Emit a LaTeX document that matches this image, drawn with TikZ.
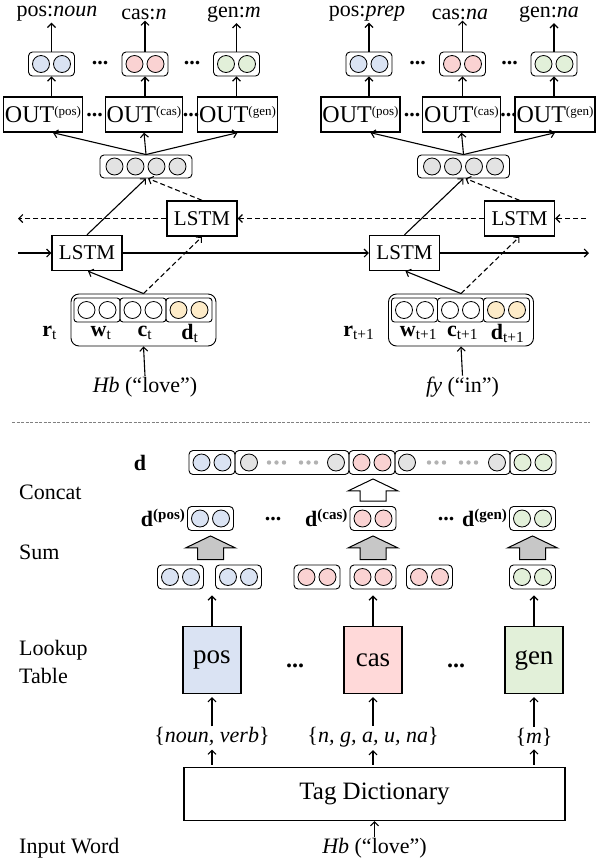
\documentclass[tikz,border=0pt]{standalone}
\usepackage{fontspec}
\setmainfont{Liberation Serif}
\usetikzlibrary{arrows.meta,calc}

\definecolor{tagblue}{HTML}{DAE3F3}
\definecolor{tagred}{HTML}{FAD2D2}
\definecolor{taggreen}{HTML}{E2F0D9}
\definecolor{tagyellow}{HTML}{FDEBC8}
\definecolor{taggray}{HTML}{E3E3E3}
\definecolor{boxred}{HTML}{FFD9D9}

\tikzset{
  txt/.style={font=\fontsize{22}{28}\selectfont, inner sep=1pt},
  vbox/.style={draw, rounded corners=4pt, line width=0.9pt, inner sep=0pt, minimum height=24pt},
  cell/.style={circle, draw, line width=0.8pt, minimum size=17pt, inner sep=0pt},
  lstm/.style={draw, line width=1.4pt, minimum width=70pt, minimum height=35pt, inner sep=0pt,
    font=\fontsize{21}{21}\selectfont},
  outbox/.style={draw, line width=1.4pt, minimum height=35pt, inner sep=1.5pt,
    font=\fontsize{24}{24}\selectfont},
  lookup/.style={draw, line width=1.3pt, minimum width=58pt, minimum height=67pt, inner sep=0pt,
    font=\fontsize{27}{27}\selectfont},
  arr/.style={-{Straight Barb[length=4pt,width=8pt]}, line width=1.1pt},
  dsh/.style={dash pattern=on 5pt off 3pt},
  ell/.style={font=\fontsize{22}{22}\selectfont\bfseries, inner sep=0pt},
  fatarr/.style={draw, line width=1pt, line join=miter},
  gdot/.style={circle, fill=black!30, minimum size=4.4pt, inner sep=0pt},
}

% superscripts of the output layers and of the tag vectors
\newcommand\outsup[1]{\raisebox{7pt}{\fontsize{13}{13}\selectfont(#1)}}
\newcommand\dsup[1]{\textbf{d}\raisebox{7pt}{\fontsize{15}{15}\selectfont\bfseries(#1)}}

% a rounded box holding two coloured cells
\newcommand\cellpair[4]{%
  \node[vbox, minimum width=46pt] (#1) at (#2,#3) {};
  \node[cell, fill=#4] (#1a) at ([xshift=-10.5pt]#1.center) {};
  \node[cell, fill=#4] (#1b) at ([xshift=10.5pt]#1.center) {};}

% block arrow: stem starts at #1, tip at #2
\newcommand\fatarrow[3]{%
  \draw[fatarr, fill=#3] let \p1=#1, \p2=#2 in
    (\x1-13pt,\y1) -- (\x1+13pt,\y1) -- (\x1+13pt,\y2-12pt) -- (\x1+25pt,\y2-12pt)
    -- (\x1,\y2) -- (\x1-25pt,\y2-12pt) -- (\x1-13pt,\y2-12pt) -- cycle;}

% one time step of the tagger
% #1 suffix, #2-#4 tag values, #5 subscript, #6 word, #7-#9 label positions
\newcommand\tagcol[9]{%
  \node[txt] (pl#1) at (#7,14) {pos:\textit{#2}};
  \node[txt] (cl#1) at (#8,14) {cas:\textit{#3}};
  \node[txt] (gl#1) at (#9,14) {gen:\textit{#4}};
  \cellpair{po#1}{51.5}{64}{tagblue}
  \cellpair{co#1}{145}{64}{tagred}
  \cellpair{go#1}{236.5}{64}{taggreen}
  \node[ell] (ea#1) at (100,63) {...};
  \node[ell] (eb#1) at (192,63) {...};
  \node[outbox] (op#1) at (43,114.5) {OUT\outsup{pos}};
  \node[outbox] (oc#1) at (144,114.5) {OUT\outsup{cas}};
  \node[outbox] (og#1) at (237.5,114.5) {OUT\outsup{gen}};
  \node[ell] (ec#1) at (94.5,115) {...};
  \node[ell] (ed#1) at (191,115) {...};
  \draw[arr] (po#1.south |- op#1.north) -- (po#1.south);
  \draw[arr] (co#1.south |- oc#1.north) -- (co#1.south);
  \draw[arr] (go#1.south |- og#1.north) -- (go#1.south);
  \draw[arr] (po#1.north) -- (po#1.north |- pl#1.south);
  \draw[arr] (co#1.north) -- (co#1.north |- cl#1.south);
  \draw[arr] (go#1.north) -- (go#1.north |- gl#1.south);
  % hidden state
  \node[vbox, minimum width=92pt, minimum height=23pt] (h#1) at (146,166.5) {};
  \foreach \k/\n in {-31.5/a,-10.5/b,10.5/c,31.5/d}
    \node[cell, fill=taggray] (h#1\n) at ([xshift=\k pt]h#1.center) {};
  \draw[arr] (h#1.north) -- ([xshift=10pt]op#1.south);
  \draw[arr] (h#1.north) -- (oc#1.south);
  \draw[arr] (h#1.north) -- (og#1.south);
  % recurrent cells
  \node[lstm] (b#1) at (202,218.5) {LSTM};
  \node[lstm] (f#1) at (87,253) {LSTM};
  \draw[arr] (f#1.north) -- (h#1.south);
  \draw[arr, dsh] (b#1.north) -- ([xshift=2pt]h#1.south);
  % input representation
  \node[draw, rounded corners=8pt, line width=0.9pt, minimum width=145pt, minimum height=52pt]
    (r#1) at (143.5,320) {};
  \node[vbox, rounded corners=3pt, minimum width=46pt] (w#1) at (97,310) {};
  \node[vbox, rounded corners=3pt, minimum width=46pt] (c#1) at (143,310) {};
  \node[vbox, rounded corners=3pt, minimum width=46pt] (d#1) at (189,310) {};
  \foreach \bx/\cl in {w/white,c/white,d/tagyellow} {
    \node[cell, fill=\cl] (\bx#1a) at ([xshift=-10.5pt]\bx#1.center) {};
    \node[cell, fill=\cl] (\bx#1b) at ([xshift=10.5pt]\bx#1.center) {};
  }
  \node[txt] (wl#1) at (101,333) {\textbf{w}\textsubscript{#5}};
  \node[txt] (cl#1x) at (145,333) {\textbf{c}\textsubscript{#5}};
  \node[txt] (dl#1) at (190,333) {\textbf{d}\textsubscript{#5}};
  \node[txt, anchor=east] (rl#1) at (58,333) {\textbf{r}\textsubscript{#5}};
  \draw[arr] (r#1.north) -- ([xshift=1pt]f#1.south);
  \draw[arr, dsh] (r#1.north) -- (b#1.south);
  \node[txt] (wd#1) at (145,387) {#6};
  \draw[arr] (wd#1.north) -- (r#1.south);
}

\begin{document}
\begin{tikzpicture}[x=1pt, y=-1pt]
\useasboundingbox (0,0) rectangle (597,863);

% ---------- sequence tagger ----------
\tagcol{1}{noun}{n}{m}{t}{\textit{Hb} (``love'')}{57}{144}{234}
\begin{scope}[xshift=317.5pt]
  \tagcol{2}{prep}{na}{na}{t+1}{\textit{fy} (``in'')}{49.5}{142.5}{231.5}
\end{scope}

\coordinate (fin) at (18,253);
\coordinate (fout) at (589,253);
\coordinate (bin) at (586,218.5);
\coordinate (bout) at (18,218.5);
\draw[arr] (fin) -- (f1);
\draw[arr] (f1) -- (f2);
\draw[arr] (f2) -- (fout);
\draw[arr, dsh] (bin) -- (b2);
\draw[arr, dsh] (b2) -- (b1);
\draw[arr, dsh] (b1) -- (bout);

% ---------- separator ----------
\draw[black!50, line width=0.7pt, dash pattern=on 3pt off 1.5pt] (12,422) -- (590,422);

% ---------- tag embedding ----------
\node[txt, anchor=west] (lcat) at (18,492) {Concat};
\node[txt, anchor=west] (lsum) at (18,552) {Sum};
\node[txt, anchor=west, align=left] (llook) at (18,662) {Lookup\\Table};
\node[txt, anchor=west] (linp) at (18,848) {Input Word};

% concatenated vector
\node[txt] (dlab) at (140,463) {\textbf{d}};
\cellpair{cpos}{212}{462.5}{tagblue}
\node[vbox, minimum width=114pt] (cg1) at (292,462.5) {};
\cellpair{ccas}{372}{462.5}{tagred}
\node[vbox, minimum width=115pt] (cg2) at (452.5,462.5) {};
\cellpair{cgen}{533}{462.5}{taggreen}
\node[cell, fill=taggray] (cg1a) at (249,462.5) {};
\node[cell, fill=taggray] (cg1b) at (336,462.5) {};
\node[cell, fill=taggray] (cg2a) at (407,462.5) {};
\node[cell, fill=taggray] (cg2b) at (497,462.5) {};
\foreach \x in {269,276.5,284,301,308.5,316,429,436.5,444,461,468.5,476}
  \node[gdot] at (\x,462.5) {};

% summed vectors
\cellpair{dpos}{210.5}{518.5}{tagblue}
\cellpair{dcas}{373}{518.5}{tagred}
\cellpair{dgen}{532.5}{518.5}{taggreen}
\node[txt, anchor=east] (dposl) at ([xshift=-1pt,yshift=1pt]dpos.west) {\dsup{pos}};
\node[txt, anchor=east] (dcasl) at ([xshift=-1pt,yshift=1pt]dcas.west) {\dsup{cas}};
\node[txt, anchor=east] (dgenl) at ([xshift=-1pt,yshift=1pt]dgen.west) {\dsup{gen}};
\node[ell] (ee1) at (273,519) {...};
\node[ell] (ee2) at (446,519) {...};

% looked-up vectors
\cellpair{bp1}{180.5}{577}{tagblue}
\cellpair{bp2}{238.5}{577}{tagblue}
\cellpair{bc1}{317}{577}{tagred}
\cellpair{bc2}{373}{577}{tagred}
\cellpair{bc3}{429.5}{577}{tagred}
\cellpair{bg1}{532.5}{577}{taggreen}

% block arrows
\fatarrow{([yshift=5pt]dcas.north)}{([yshift=-4pt]ccas.south)}{white}
\fatarrow{([yshift=5pt]dpos.south |- bp1.north)}{([yshift=-5pt]dpos.south)}{black!22}
\fatarrow{([yshift=5pt]dcas.south |- bc2.north)}{([yshift=-5pt]dcas.south)}{black!22}
\fatarrow{([yshift=5pt]dgen.south |- bg1.north)}{([yshift=-5pt]dgen.south)}{black!22}

% lookup tables
\node[lookup, fill=tagblue] (lpos) at (212,660) {pos};
\node[lookup, fill=boxred] (lcas) at (373,660) {cas};
\node[lookup, fill=taggreen] (lgen) at (534,660) {gen};
\node[ell, font=\fontsize{24}{24}\selectfont\bfseries] (ef1) at (295,666) {...};
\node[ell, font=\fontsize{24}{24}\selectfont\bfseries] (ef2) at (456,666) {...};
\draw[arr, shorten >=6pt] (lpos.north) -- (lpos.north |- bp1.south);
\draw[arr, shorten >=6pt] (lcas.north) -- (lcas.north |- bc2.south);
\draw[arr, shorten >=6pt] (lgen.north) -- (lgen.north |- bg1.south);

% candidate tags
\node[txt] (spos) at (212,737) {\{\textit{noun, verb}\}};
\node[txt] (scas) at (373,737) {\{\textit{n, g, a, u, na}\}};
\node[txt] (sgen) at (534,737) {\{\textit{m}\}};
\draw[arr, shorten >=3pt] (spos.north) -- (lpos.south);
\draw[arr, shorten >=3pt] (scas.north) -- (lcas.south);
\draw[arr, shorten >=3pt] (sgen.north) -- (lgen.south);

% dictionary
\node[draw, line width=1.3pt, minimum width=381pt, minimum height=53pt,
  font=\fontsize{25}{25}\selectfont] (tag) at (374.5,794) {Tag Dictionary};
\draw[arr, shorten <=2pt, shorten >=2pt] (tag.north -| spos) -- (spos.south);
\draw[arr, shorten <=2pt, shorten >=2pt] (tag.north -| scas) -- (scas.south);
\draw[arr, shorten <=2pt, shorten >=2pt] (tag.north -| sgen) -- (sgen.south);
\node[txt] (iw) at (374.5,848) {\textit{Hb} (``love'')};
\draw[arr] (iw.north) -- (tag.south);
\end{tikzpicture}
\end{document}
